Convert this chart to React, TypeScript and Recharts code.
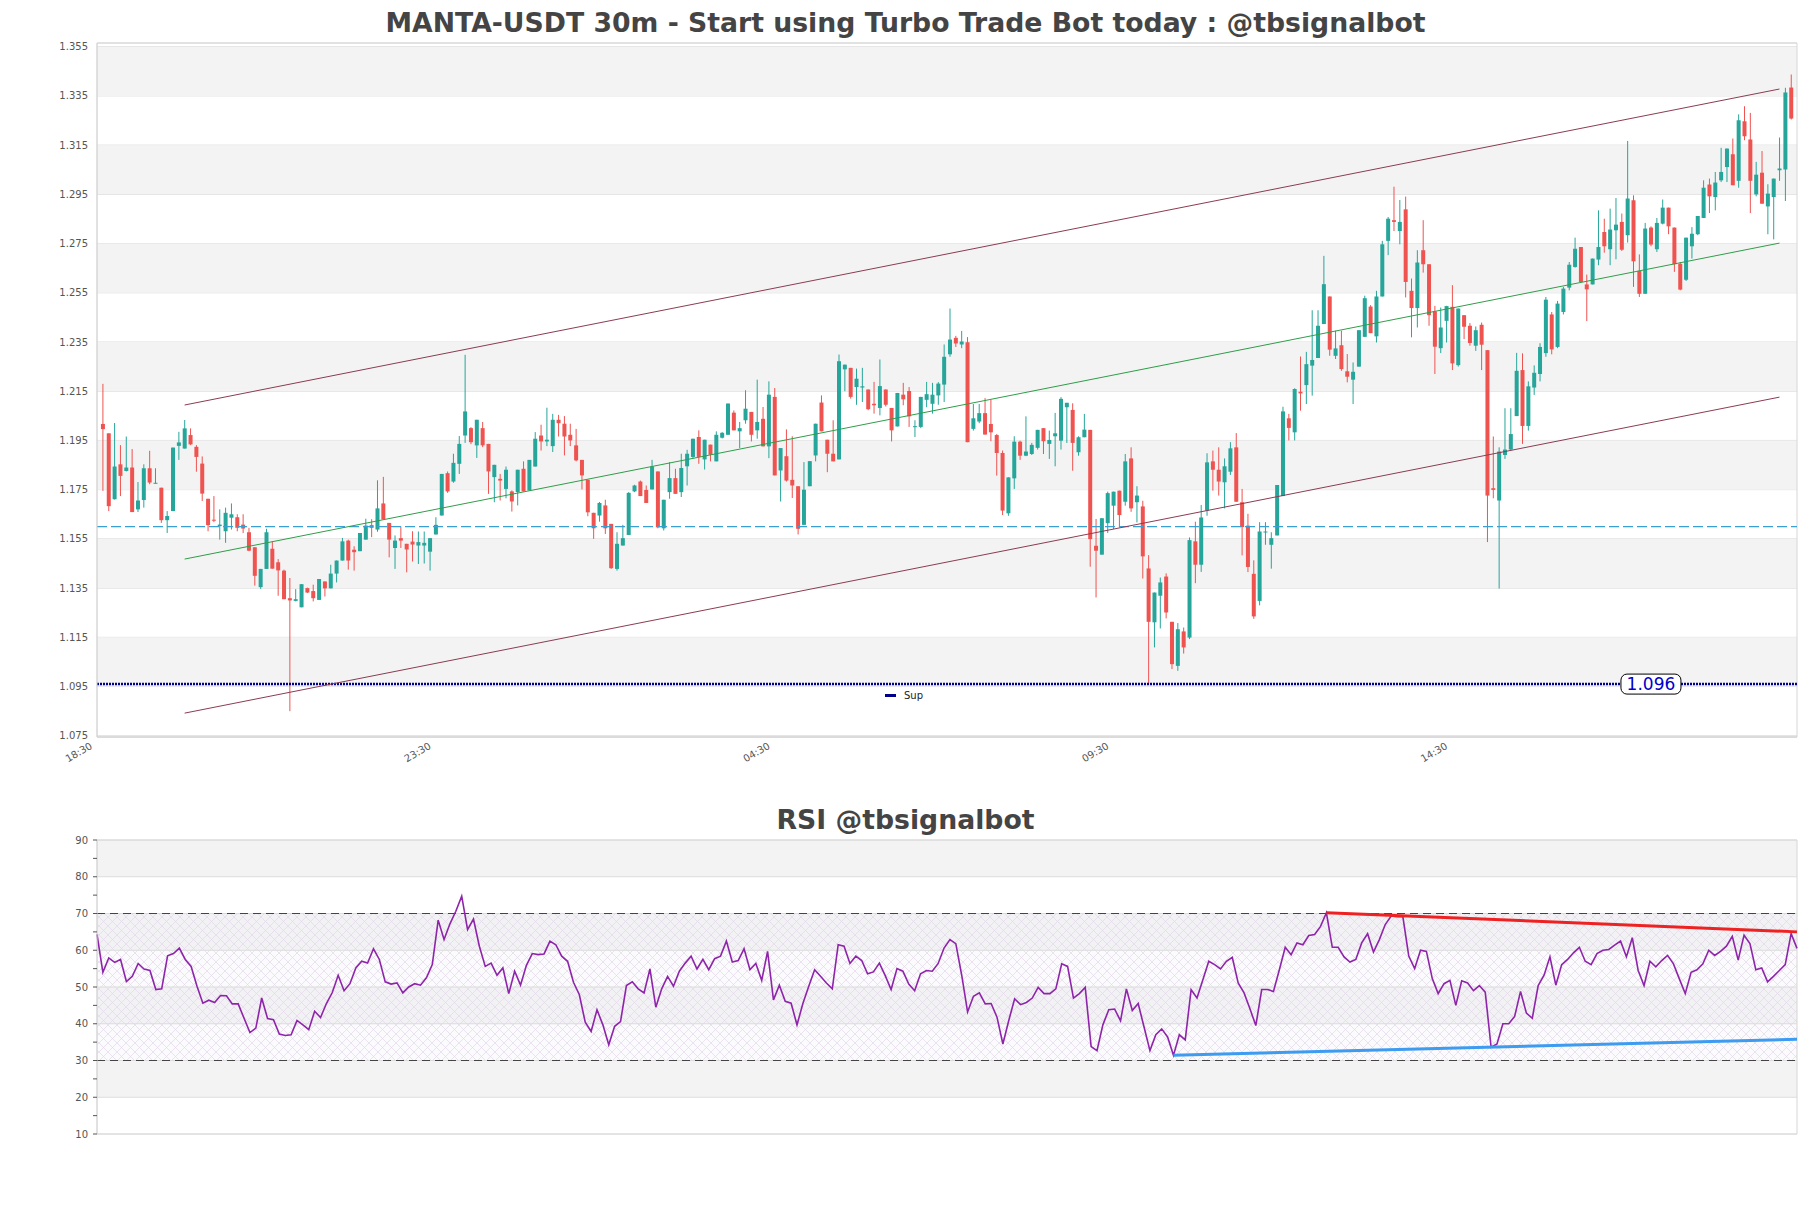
import React from 'react';
import {
  ComposedChart,
  Bar,
  Line,
  XAxis,
  YAxis,
  CartesianGrid,
  ReferenceLine,
  ReferenceArea,
  ReferenceDot,
} from 'recharts';

// 30m candles, index 0..289
const opens = [
  1.2017, 1.1979, 1.1711, 1.1853, 1.1826, 1.1840, 1.1670, 1.1708, 1.1837, 1.1776,
  1.1758, 1.1626, 1.1663, 1.1928, 1.1917, 1.1972, 1.1924, 1.1856, 1.1713, 1.1628,
  1.1602, 1.1581, 1.1636, 1.1638, 1.1608, 1.1577, 1.1516, 1.1354, 1.1428, 1.1510,
  1.1455, 1.1421, 1.1309, 1.1298, 1.1272, 1.1350, 1.1338, 1.1302, 1.1377, 1.1349,
  1.1409, 1.1462, 1.1543, 1.1506, 1.1500, 1.1547, 1.1606, 1.1588, 1.1694, 1.1615,
  1.1513, 1.1553, 1.1530, 1.1539, 1.1523, 1.1523, 1.1498, 1.1568, 1.1645, 1.1817,
  1.1783, 1.1855, 1.1970, 1.2000, 1.1930, 1.2000, 1.1936, 1.1801, 1.1794, 1.1753,
  1.1743, 1.1740, 1.1835, 1.1747, 1.1844, 1.1970, 1.1946, 1.1927, 1.2034, 1.2018,
  1.1973, 1.1930, 1.1871, 1.1790, 1.1656, 1.1645, 1.1686, 1.1611, 1.1428, 1.1523,
  1.1566, 1.1743, 1.1783, 1.1749, 1.1751, 1.1824, 1.1593, 1.1740, 1.1797, 1.1740,
  1.1845, 1.1883, 1.1964, 1.1873, 1.1933, 1.1865, 1.1961, 1.1973, 1.2063, 1.1987,
  1.2032, 1.2066, 1.1991, 1.2038, 1.1926, 1.2127, 1.1828, 1.1886, 1.1790, 1.1764,
  1.1607, 1.1764, 1.1889, 1.2104, 1.1953, 1.1896, 1.1873, 1.2239, 1.2245, 1.2167,
  1.2165, 1.2157, 1.2099, 1.2082, 1.2157, 1.2082, 1.2007, 1.2136, 1.2151, 1.2004,
  1.2005, 1.2115, 1.2099, 1.2133, 1.2177, 1.2300, 1.2367, 1.2340, 1.2349, 1.1997,
  1.2027, 1.2061, 1.2017, 1.1972, 1.1899, 1.1654, 1.1796, 1.1945, 1.1888, 1.1895,
  1.1920, 1.2000, 1.1936, 1.1967, 1.1949, 1.2085, 1.2074, 1.1902, 1.1963, 1.1993,
  1.1522, 1.1486, 1.1614, 1.1685, 1.1746, 1.1701, 1.1877, 1.1699, 1.1682, 1.1430,
  1.1211, 1.1319, 1.1397, 1.1213, 1.1034, 1.1174, 1.1149, 1.1540, 1.1445, 1.1665,
  1.1865, 1.1831, 1.1780, 1.1823, 1.1922, 1.1699, 1.1604, 1.1408, 1.1298, 1.1578,
  1.1526, 1.1564, 1.1724, 1.2040, 1.1983, 1.2148, 1.2175, 1.2254, 1.2285, 1.2423,
  1.2535, 1.2294, 1.2337, 1.2231, 1.2197, 1.2250, 1.2371, 1.2494, 1.2373, 1.2535,
  1.2761, 1.2845, 1.2801, 1.2889, 1.2558, 1.2488, 1.2723, 1.2666, 1.2474, 1.2325,
  1.2436, 1.2493, 1.2256, 1.2459, 1.2416, 1.2335, 1.2420, 1.2317, 1.1756, 1.1706,
  1.1891, 1.1913, 1.2049, 1.2236, 1.2009, 1.2165, 1.2220, 1.2305, 1.2462, 1.2330,
  1.2472, 1.2571, 1.2655, 1.2736, 1.2584, 1.2584, 1.2685, 1.2797, 1.2727, 1.2804,
  1.2838, 1.2784, 1.2926, 1.2639, 1.2546, 1.2815, 1.2727, 1.2831, 1.2896, 1.2815,
  1.2668, 1.2603, 1.2739, 1.2788, 1.2854, 1.2990, 1.2939, 1.3007, 1.3061, 1.3113,
  1.3005, 1.3247, 1.3173, 1.2950, 1.3038, 1.2901, 1.2939, 1.3048, 1.3051, 1.3384,
];

const highs = [
  1.2180, 1.1979, 1.2021, 1.1931, 1.1966, 1.1915, 1.1781, 1.1853, 1.1908, 1.1837,
  1.1758, 1.1663, 1.1921, 1.1985, 1.2033, 1.1999, 1.1931, 1.1885, 1.1713, 1.1724,
  1.1670, 1.1677, 1.1694, 1.1650, 1.1650, 1.1595, 1.1516, 1.1428, 1.1591, 1.1540,
  1.1468, 1.1425, 1.1391, 1.1346, 1.1366, 1.1352, 1.1364, 1.1387, 1.1377, 1.1445,
  1.1462, 1.1554, 1.1547, 1.1520, 1.1574, 1.1632, 1.1630, 1.1788, 1.1802, 1.1615,
  1.1564, 1.1600, 1.1530, 1.1581, 1.1580, 1.1580, 1.1553, 1.1638, 1.1814, 1.1824,
  1.1896, 1.1968, 1.2298, 1.2004, 1.2034, 1.2025, 1.1936, 1.1851, 1.1814, 1.1844,
  1.1747, 1.1831, 1.1865, 1.1871, 1.1984, 1.2014, 1.2083, 1.2058, 1.2054, 1.2049,
  1.2018, 1.1997, 1.1871, 1.1790, 1.1656, 1.1700, 1.1709, 1.1611, 1.1577, 1.1607,
  1.1740, 1.1770, 1.1787, 1.1767, 1.1871, 1.1824, 1.1709, 1.1862, 1.1835, 1.1896,
  1.1912, 1.1957, 1.1991, 1.1953, 1.1933, 1.1987, 1.1984, 1.2100, 1.2072, 1.2025,
  1.2154, 1.2066, 1.2197, 1.2086, 1.2190, 1.2163, 1.1919, 1.1995, 1.1967, 1.1764,
  1.1862, 1.1866, 1.2018, 1.2133, 1.1953, 1.2032, 1.2299, 1.2258, 1.2245, 1.2242,
  1.2245, 1.2157, 1.2188, 1.2279, 1.2157, 1.2082, 1.2143, 1.2184, 1.2167, 1.2032,
  1.2127, 1.2188, 1.2184, 1.2187, 1.2340, 1.2486, 1.2375, 1.2395, 1.2370, 1.2098,
  1.2098, 1.2122, 1.2116, 1.1976, 1.1909, 1.1800, 1.1967, 1.1949, 1.2048, 1.1940,
  1.1993, 1.2000, 1.1990, 1.2062, 1.2126, 1.2103, 1.2101, 1.1967, 1.2058, 1.1993,
  1.1631, 1.1634, 1.1742, 1.1742, 1.1746, 1.1895, 1.1922, 1.1764, 1.1705, 1.1484,
  1.1332, 1.1393, 1.1410, 1.1213, 1.1208, 1.1190, 1.1556, 1.1620, 1.1688, 1.1898,
  1.1909, 1.1922, 1.1877, 1.1943, 1.1980, 1.1753, 1.1652, 1.1463, 1.1618, 1.1618,
  1.1577, 1.1769, 1.2087, 1.2058, 1.2162, 1.2291, 1.2310, 1.2479, 1.2479, 1.2700,
  1.2535, 1.2396, 1.2396, 1.2301, 1.2267, 1.2398, 1.2538, 1.2500, 1.2558, 1.2761,
  1.2858, 1.2981, 1.2927, 1.2941, 1.2608, 1.2723, 1.2845, 1.2666, 1.2497, 1.2490,
  1.2497, 1.2581, 1.2486, 1.2459, 1.2427, 1.2413, 1.2429, 1.2317, 1.1966, 1.1922,
  1.2081, 1.2081, 1.2306, 1.2304, 1.2190, 1.2255, 1.2345, 1.2533, 1.2472, 1.2517,
  1.2574, 1.2675, 1.2774, 1.2736, 1.2624, 1.2689, 1.2885, 1.2851, 1.2892, 1.2935,
  1.2872, 1.3167, 1.2946, 1.2706, 1.2834, 1.2820, 1.2854, 1.2929, 1.2896, 1.2815,
  1.2675, 1.2774, 1.2817, 1.2862, 1.3007, 1.3014, 1.3041, 1.3139, 1.3136, 1.3177,
  1.3275, 1.3308, 1.3281, 1.3082, 1.3126, 1.2991, 1.3014, 1.3181, 1.3383, 1.3437,
];

const lows = [
  1.1745, 1.1663, 1.1710, 1.1724, 1.1824, 1.1659, 1.1659, 1.1677, 1.1772, 1.1775,
  1.1615, 1.1574, 1.1663, 1.1871, 1.1917, 1.1931, 1.1823, 1.1704, 1.1581, 1.1618,
  1.1547, 1.1534, 1.1588, 1.1581, 1.1574, 1.1500, 1.1360, 1.1347, 1.1428, 1.1429,
  1.1319, 1.1305, 1.0850, 1.1296, 1.1272, 1.1330, 1.1296, 1.1302, 1.1316, 1.1349,
  1.1373, 1.1462, 1.1425, 1.1421, 1.1500, 1.1547, 1.1557, 1.1579, 1.1629, 1.1475,
  1.1428, 1.1513, 1.1414, 1.1458, 1.1448, 1.1450, 1.1421, 1.1568, 1.1645, 1.1737,
  1.1778, 1.1814, 1.1940, 1.1935, 1.1879, 1.1923, 1.1733, 1.1699, 1.1706, 1.1715,
  1.1661, 1.1686, 1.1743, 1.1747, 1.1844, 1.1909, 1.1927, 1.1903, 1.1966, 1.1889,
  1.1927, 1.1865, 1.1751, 1.1642, 1.1550, 1.1620, 1.1570, 1.1428, 1.1421, 1.1523,
  1.1566, 1.1740, 1.1724, 1.1696, 1.1751, 1.1593, 1.1584, 1.1713, 1.1733, 1.1720,
  1.1767, 1.1876, 1.1855, 1.1832, 1.1865, 1.1865, 1.1958, 1.1973, 1.1991, 1.1919,
  1.2018, 1.1946, 1.1957, 1.1926, 1.1878, 1.1808, 1.1702, 1.1783, 1.1716, 1.1568,
  1.1607, 1.1764, 1.1865, 1.1987, 1.1821, 1.1865, 1.1873, 1.2150, 1.2120, 1.2095,
  1.2106, 1.2073, 1.2059, 1.2052, 1.2088, 1.1946, 1.2007, 1.2093, 1.2005, 1.1964,
  1.2000, 1.2085, 1.2059, 1.2095, 1.2106, 1.2290, 1.2330, 1.2325, 1.1943, 1.1990,
  1.2020, 1.1974, 1.1947, 1.1807, 1.1647, 1.1644, 1.1753, 1.1871, 1.1886, 1.1891,
  1.1913, 1.1895, 1.1875, 1.1845, 1.1913, 1.1940, 1.1827, 1.1888, 1.1963, 1.1437,
  1.1312, 1.1486, 1.1574, 1.1590, 1.1597, 1.1685, 1.1660, 1.1617, 1.1389, 1.0960,
  1.1109, 1.1186, 1.1227, 1.1021, 1.1014, 1.1084, 1.1143, 1.1370, 1.1416, 1.1644,
  1.1746, 1.1726, 1.1674, 1.1810, 1.1701, 1.1483, 1.1415, 1.1225, 1.1280, 1.1526,
  1.1429, 1.1564, 1.1724, 1.1950, 1.1950, 1.2071, 1.2098, 1.2132, 1.2285, 1.2423,
  1.2294, 1.2281, 1.2233, 1.2186, 1.2098, 1.2250, 1.2371, 1.2386, 1.2348, 1.2535,
  1.2703, 1.2801, 1.2747, 1.2531, 1.2369, 1.2409, 1.2632, 1.2416, 1.2220, 1.2305,
  1.2348, 1.2236, 1.2250, 1.2362, 1.2335, 1.2314, 1.2236, 1.1537, 1.1715, 1.1348,
  1.1875, 1.1909, 1.2049, 1.1936, 1.1990, 1.2135, 1.2190, 1.2290, 1.2300, 1.2325,
  1.2462, 1.2560, 1.2652, 1.2590, 1.2435, 1.2584, 1.2662, 1.2713, 1.2662, 1.2686,
  1.2720, 1.2754, 1.2574, 1.2533, 1.2546, 1.2739, 1.2716, 1.2828, 1.2788, 1.2635,
  1.2560, 1.2598, 1.2689, 1.2784, 1.2854, 1.2874, 1.2885, 1.3000, 1.3000, 1.2987,
  1.2977, 1.3170, 1.2874, 1.2942, 1.2912, 1.2788, 1.2767, 1.3005, 1.2923, 1.3254,
];

const closes = [
  1.1996, 1.1683, 1.1844, 1.1806, 1.1840, 1.1659, 1.1706, 1.1837, 1.1779, 1.1778,
  1.1626, 1.1643, 1.1921, 1.1942, 1.1999, 1.1934, 1.1883, 1.1734, 1.1606, 1.1624,
  1.1608, 1.1656, 1.1650, 1.1595, 1.1592, 1.1502, 1.1400, 1.1428, 1.1577, 1.1429,
  1.1422, 1.1305, 1.1300, 1.1305, 1.1366, 1.1332, 1.1309, 1.1387, 1.1349, 1.1409,
  1.1462, 1.1540, 1.1462, 1.1496, 1.1574, 1.1604, 1.1595, 1.1674, 1.1629, 1.1547,
  1.1543, 1.1543, 1.1507, 1.1527, 1.1537, 1.1534, 1.1553, 1.1607, 1.1814, 1.1743,
  1.1859, 1.1936, 1.2068, 1.1943, 1.2034, 1.1930, 1.1824, 1.1851, 1.1787, 1.1831,
  1.1702, 1.1831, 1.1743, 1.1871, 1.1957, 1.1946, 1.1953, 1.2034, 1.2020, 1.1966,
  1.1950, 1.1869, 1.1808, 1.1658, 1.1593, 1.1696, 1.1593, 1.1431, 1.1530, 1.1553,
  1.1737, 1.1767, 1.1724, 1.1696, 1.1844, 1.1597, 1.1709, 1.1797, 1.1733, 1.1838,
  1.1896, 1.1957, 1.1883, 1.1953, 1.1892, 1.1973, 1.1981, 1.2100, 1.1991, 1.2000,
  1.2079, 1.1973, 1.2025, 1.1926, 1.2136, 1.1808, 1.1919, 1.1787, 1.1767, 1.1591,
  1.1750, 1.1866, 1.2018, 1.1987, 1.1896, 1.1865, 1.2272, 1.2258, 1.2127, 1.2201,
  1.2170, 1.2077, 1.2093, 1.2171, 1.2095, 1.1991, 1.2143, 1.2117, 1.2048, 1.2008,
  1.2127, 1.2138, 1.2136, 1.2181, 1.2290, 1.2360, 1.2344, 1.2352, 1.1943, 1.2040,
  1.2061, 1.1974, 1.1983, 1.1899, 1.1665, 1.1800, 1.1945, 1.1888, 1.1905, 1.1932,
  1.1993, 1.1947, 1.1952, 1.1979, 1.2119, 1.2103, 1.1940, 1.1963, 1.1994, 1.1549,
  1.1502, 1.1634, 1.1736, 1.1742, 1.1647, 1.1865, 1.1674, 1.1726, 1.1479, 1.1213,
  1.1332, 1.1373, 1.1251, 1.1041, 1.1183, 1.1109, 1.1545, 1.1445, 1.1637, 1.1861,
  1.1831, 1.1783, 1.1845, 1.1918, 1.1701, 1.1598, 1.1436, 1.1235, 1.1580, 1.1580,
  1.1553, 1.1769, 1.2068, 1.2001, 1.2159, 1.2141, 1.2260, 1.2277, 1.2416, 1.2585,
  1.2319, 1.2324, 1.2240, 1.2209, 1.2229, 1.2398, 1.2528, 1.2386, 1.2535, 1.2747,
  1.2851, 1.2838, 1.2838, 1.2594, 1.2488, 1.2673, 1.2666, 1.2459, 1.2331, 1.2409,
  1.2496, 1.2263, 1.2486, 1.2412, 1.2346, 1.2398, 1.2339, 1.1726, 1.1749, 1.1905,
  1.1913, 1.1976, 1.2233, 1.2009, 1.2170, 1.2225, 1.2330, 1.2522, 1.2320, 1.2506,
  1.2567, 1.2664, 1.2729, 1.2594, 1.2564, 1.2689, 1.2736, 1.2739, 1.2807, 1.2827,
  1.2725, 1.2933, 1.2678, 1.2546, 1.2811, 1.2746, 1.2834, 1.2896, 1.2820, 1.2666,
  1.2563, 1.2774, 1.2790, 1.2862, 1.2977, 1.2942, 1.2998, 1.3041, 1.3136, 1.2987,
  1.3251, 1.3186, 1.3005, 1.3030, 1.2912, 1.2953, 1.3014, 1.3055, 1.3364, 1.3258,
];

const rsiValues = [
  64.3, 54.0, 57.9, 56.7, 57.5, 51.5, 52.9, 56.4, 54.9, 54.5,
  49.3, 49.5, 58.5, 59.1, 60.6, 57.5, 55.6, 50.2, 45.6, 46.4,
  45.8, 47.7, 47.6, 45.4, 45.4, 41.5, 37.6, 38.8, 47.0, 41.4,
  41.1, 37.2, 36.8, 37.0, 40.9, 39.7, 38.4, 43.4, 41.7, 45.5,
  48.5, 53.2, 49.0, 50.9, 55.2, 57.0, 56.5, 60.4, 57.5, 51.4,
  50.8, 51.1, 48.4, 50.0, 50.9, 50.5, 52.5, 56.1, 68.2, 62.9,
  67.2, 70.6, 74.7, 65.6, 68.5, 61.1, 55.6, 56.5, 53.2, 55.2,
  48.2, 54.3, 50.5, 55.9, 59.1, 58.8, 59.0, 62.5, 61.5, 58.4,
  57.0, 51.3, 47.9, 40.4, 37.9, 43.8, 39.7, 34.3, 39.3, 40.6,
  50.4, 51.4, 49.5, 48.4, 54.9, 44.5, 49.5, 52.9, 50.2, 54.3,
  56.5, 58.4, 54.9, 57.5, 54.7, 57.7, 58.4, 62.5, 56.8, 57.2,
  60.4, 54.7, 56.4, 51.8, 59.7, 46.5, 50.5, 46.1, 45.6, 39.7,
  45.5, 50.2, 54.7, 52.9, 51.1, 49.5, 61.5, 61.1, 56.4, 58.4,
  57.2, 53.6, 54.1, 56.5, 53.1, 49.3, 55.0, 54.3, 50.8, 49.0,
  53.6, 54.5, 54.3, 56.4, 60.6, 62.9, 61.8, 53.2, 43.2, 47.5,
  48.4, 45.4, 45.5, 41.8, 34.5, 40.9, 46.8, 45.2, 45.8, 47.0,
  49.9, 48.2, 48.2, 49.5, 56.3, 55.6, 47.0, 48.2, 49.9, 33.8,
  32.7, 39.7, 43.8, 44.0, 40.8, 49.5, 43.6, 45.5, 39.1, 32.7,
  37.0, 38.6, 36.4, 31.4, 37.0, 35.6, 49.3, 47.0, 52.0, 57.0,
  56.1, 54.9, 57.0, 58.1, 51.1, 48.4, 44.1, 39.5, 49.3, 49.3,
  48.8, 54.7, 60.8, 58.8, 62.0, 61.5, 64.0, 64.3, 66.5, 70.2,
  60.8, 60.8, 58.2, 56.8, 57.5, 62.0, 64.5, 59.5, 62.9, 67.0,
  69.3, 69.1, 69.1, 58.4, 55.0, 60.0, 59.7, 52.3, 48.2, 50.9,
  51.8, 45.0, 51.7, 51.1, 49.0, 50.4, 48.6, 33.6, 34.5, 40.0,
  40.0, 42.0, 48.8, 42.9, 41.5, 50.4, 53.2, 58.2, 50.5, 56.1,
  57.5, 59.3, 60.8, 57.0, 56.1, 59.1, 60.0, 60.2, 61.4, 62.5,
  58.2, 63.4, 54.5, 50.4, 57.0, 55.5, 57.2, 58.6, 56.3, 52.2,
  48.2, 54.0, 54.7, 56.3, 60.0, 58.6, 59.7, 61.1, 63.8, 57.3,
  64.1, 61.8, 54.7, 55.2, 51.4, 52.9, 54.5, 56.1, 64.5, 60.5,
];

const timeTicks = [-1, 57, 115, 173, 231];
const timeLabels = ['18:30', '23:30', '04:30', '09:30', '14:30'];
const priceTicks = [1.075, 1.095, 1.115, 1.135, 1.155, 1.175, 1.195, 1.215, 1.235, 1.255, 1.275, 1.295, 1.315, 1.335, 1.355];
const priceBands = [[1.095, 1.115], [1.135, 1.155], [1.175, 1.195], [1.215, 1.235], [1.255, 1.275], [1.295, 1.315], [1.335, 1.355]];
const rsiTicks = [10, 15, 20, 25, 30, 35, 40, 45, 50, 55, 60, 65, 70, 75, 80, 85, 90];
const rsiGrid = [10, 20, 30, 40, 50, 60, 70, 80, 90];
const rsiBands = [[80, 90], [60, 70], [40, 50], [20, 30]];

// channel: middle line from start to end, +/- width
const channelStart = { i: 14, mid: 1.1468 };
const channelEnd = { i: 287, mid: 1.2752 };
const channelWidth = 0.0626;
const pivotLevel = 1.16;
const supportLevel = 1.096;
const supportLabelAt = 265;

const rsiHigh = [{ i: 209, v: 70.2 }, { i: 289, v: 65.0 }];
const rsiLow = [{ i: 183, v: 31.4 }, { i: 289, v: 35.8 }];

const GREEN = '#26a69a';
const RED = '#ef5350';
const FONT = 'DejaVu Sans, sans-serif';

const candles = opens.map((o, i) => ({
  i,
  open: o,
  high: highs[i],
  low: lows[i],
  close: closes[i],
  range: [lows[i], highs[i]],
}));

const rsiData = rsiValues.map((v, i) => ({ i, v }));

const Candle = (props: any) => {
  const { x, y, width, height, payload } = props;
  const { open, close, high, low } = payload;
  const top = Math.min(y, y + height);
  const bot = Math.max(y, y + height);
  const span = high - low;
  const py = (p: number) => (span > 0 ? top + ((high - p) / span) * (bot - top) : top);
  const color = close >= open ? GREEN : RED;
  const cx = x + width / 2;
  const bTop = py(Math.max(open, close));
  const bBot = py(Math.min(open, close));
  return (
    <g>
      <line x1={cx} x2={cx} y1={top} y2={bot} stroke={color} strokeWidth={1} />
      <rect x={x} y={bTop} width={width} height={Math.max(1, bBot - bTop)} fill={color} />
    </g>
  );
};

const TimeTick = ({ x, y, payload }: any) => {
  const idx = timeTicks.indexOf(payload.value);
  return (
    <g transform={`translate(${x - 4},${y + 9})`}>
      <text textAnchor="end" fontSize={10} fill="#555" fontFamily={FONT} transform="rotate(-30)">
        {idx >= 0 ? timeLabels[idx] : ''}
      </text>
    </g>
  );
};

const SupLabel = ({ cx, cy }: any) => (
  <g>
    <rect x={cx - 30} y={cy - 10} width={60} height={20} rx={6} fill="#fff" stroke="#000" strokeWidth={1} />
    <text x={cx} y={cy + 6} textAnchor="middle" fontSize={17} fill="#0000cc" fontFamily={FONT}>
      {supportLevel.toFixed(3)}
    </text>
  </g>
);

const titleStyle: React.CSSProperties = {
  position: 'absolute',
  left: 0,
  width: 1811,
  textAlign: 'center',
  fontFamily: FONT,
  fontWeight: 'bold',
  fontSize: 26.7,
  lineHeight: '34px',
  color: '#444',
};

export default function App() {
  const upper = channelWidth;
  return (
    <div style={{ position: 'absolute', left: 0, top: 0, width: 1811, height: 1208, background: '#fff', fontFamily: FONT }}>
      <div style={{ ...titleStyle, top: 6 }}>MANTA-USDT 30m - Start using Turbo Trade Bot today : @tbsignalbot</div>

      <div style={{ position: 'absolute', left: 0, top: 0 }}>
        <ComposedChart width={1811} height={780} data={candles} margin={{ top: 43, right: 14, bottom: 0, left: 0 }}>
          {priceBands.map(([a, b]) => (
            <ReferenceArea key={a} y1={a} y2={b} fill="#f3f3f3" fillOpacity={1} stroke="none" />
          ))}
          <CartesianGrid horizontal vertical={false} stroke="#dcdcdc" />
          <ReferenceArea x1={-1} x2={290} y1={1.0745} y2={1.3565} fill="none" stroke="#d6d6d6" />
          <XAxis
            type="number"
            dataKey="i"
            domain={[-1, 290]}
            ticks={timeTicks}
            interval={0}
            height={43}
            tickLine={false}
            tickSize={0}
            axisLine={{ stroke: '#d6d6d6' }}
            tick={<TimeTick />}
            allowDataOverflow
          />
          <YAxis
            domain={[1.0745, 1.3565]}
            ticks={priceTicks}
            interval={0}
            width={97}
            tickLine={false}
            tickSize={0}
            tickMargin={9}
            axisLine={{ stroke: '#d6d6d6' }}
            tickFormatter={(v: number) => v.toFixed(3)}
            tick={{ fontSize: 10, fill: '#555', fontFamily: FONT }}
            allowDataOverflow
          />
          <ReferenceLine y={pivotLevel} stroke="#3a9fd2" strokeWidth={1.2} strokeDasharray="10 4" />
          <ReferenceLine y={supportLevel} stroke="#00008b" strokeWidth={2.5} strokeDasharray="2 1" />
          <ReferenceLine
            segment={[{ x: channelStart.i, y: channelStart.mid + upper }, { x: channelEnd.i, y: channelEnd.mid + upper }]}
            stroke="#8c3b52"
            strokeWidth={1}
          />
          <ReferenceLine
            segment={[{ x: channelStart.i, y: channelStart.mid }, { x: channelEnd.i, y: channelEnd.mid }]}
            stroke="#2e9e48"
            strokeWidth={1}
          />
          <ReferenceLine
            segment={[{ x: channelStart.i, y: channelStart.mid - upper }, { x: channelEnd.i, y: channelEnd.mid - upper }]}
            stroke="#8c3b52"
            strokeWidth={1}
          />
          <Bar dataKey="range" barSize={4} shape={<Candle />} isAnimationActive={false} />
          <ReferenceDot x={supportLabelAt} y={supportLevel} shape={<SupLabel />} />
        </ComposedChart>
      </div>

      <div style={{ position: 'absolute', left: 885, top: 690, display: 'flex', alignItems: 'center', fontSize: 10, color: '#222', fontFamily: FONT }}>
        <span style={{ display: 'inline-block', width: 11, height: 2.5, background: '#00008b', marginRight: 8 }} />
        Sup
      </div>

      <div style={{ ...titleStyle, top: 803 }}>RSI @tbsignalbot</div>

      <div style={{ position: 'absolute', left: 0, top: 800 }}>
        <ComposedChart width={1811} height={400} data={rsiData} margin={{ top: 40, right: 14, bottom: 66, left: 0 }}>
          <defs>
            <pattern id="rsiHatch" width="9" height="9" patternUnits="userSpaceOnUse">
              <path d="M0,0 L9,9 M9,0 L0,9" stroke="#e2d8ea" strokeWidth={0.7} />
            </pattern>
          </defs>
          {rsiBands.map(([a, b]) => (
            <ReferenceArea key={a} y1={a} y2={b} fill="#f3f3f3" fillOpacity={1} stroke="none" />
          ))}
          <ReferenceArea y1={30} y2={70} fill="#f1ebf4" fillOpacity={0.25} stroke="none" />
          <ReferenceArea y1={30} y2={70} fill="url(#rsiHatch)" fillOpacity={1} stroke="none" />
          {rsiGrid.map((v) => (
            <ReferenceLine key={v} y={v} stroke="#dcdcdc" strokeWidth={1} />
          ))}
          <ReferenceArea x1={0} x2={289} y1={10} y2={90} fill="none" stroke="#d6d6d6" />
          <XAxis type="number" dataKey="i" domain={[0, 289]} hide />
          <YAxis
            domain={[10, 90]}
            ticks={rsiTicks}
            interval={0}
            width={97}
            tickSize={4}
            tickMargin={5}
            tickLine={{ stroke: '#555' }}
            axisLine={{ stroke: '#d6d6d6' }}
            tickFormatter={(v: number) => (v % 10 === 0 ? String(v) : '')}
            tick={{ fontSize: 10, fill: '#555', fontFamily: FONT }}
          />
          <ReferenceLine y={70} stroke="#444" strokeWidth={1.2} strokeDasharray="8 5" />
          <ReferenceLine y={30} stroke="#444" strokeWidth={1.2} strokeDasharray="8 5" />
          <Line type="linear" dataKey="v" stroke="#8e24aa" strokeWidth={1.6} dot={false} isAnimationActive={false} />
          <ReferenceLine
            segment={[{ x: rsiHigh[0].i, y: rsiHigh[0].v }, { x: rsiHigh[1].i, y: rsiHigh[1].v }]}
            stroke="#ee2222"
            strokeWidth={3}
          />
          <ReferenceLine
            segment={[{ x: rsiLow[0].i, y: rsiLow[0].v }, { x: rsiLow[1].i, y: rsiLow[1].v }]}
            stroke="#3d9bf0"
            strokeWidth={3}
          />
        </ComposedChart>
      </div>
    </div>
  );
}
